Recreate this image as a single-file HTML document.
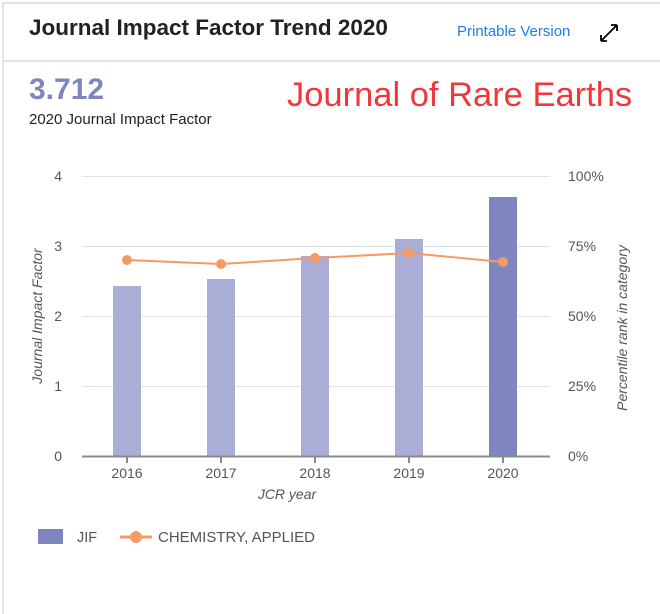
<!DOCTYPE html>
<html><head><meta charset="utf-8"><style>
body{margin:0;width:660px;height:600px;background:#fff;font-family:"Liberation Sans",sans-serif;overflow:hidden}
.box{position:absolute;left:2px;top:2px;width:670px;height:610px;border-left:2px solid #e2e2e8;border-top:2px solid #e2e2e8}
</style></head><body>
<div class="box"></div>
<div style="position:absolute;left:3px;top:60px;width:657px;height:2px;background:#e4e4e8"></div>
<div style="position:absolute;left:29px;top:15px;font-size:22.5px;font-weight:bold;color:#222">Journal Impact Factor Trend 2020</div>
<div style="position:absolute;left:457px;top:23px;font-size:15px;color:#1a7fe8">Printable Version</div>
<svg style="position:absolute;left:598px;top:22px" width="22" height="22"><path d="M3 19L19 3M19 3h-6M19 3v6M3 19h6M3 19v-6" stroke="#000" stroke-width="1.8" fill="none"/></svg>
<div style="position:absolute;left:29px;top:73px;font-size:30px;font-weight:bold;color:#7f86bf">3.712</div>
<div style="position:absolute;left:29px;top:111px;font-size:15px;color:#222">2020 Journal Impact Factor</div>
<div style="position:absolute;left:287px;top:76px;font-size:34.5px;color:#f0373c">Journal of Rare Earths</div>
<svg style="position:absolute;left:0;top:0" width="660" height="600" font-family="Liberation Sans, sans-serif">
<g stroke="#e0e0e8" stroke-width="1">
<line x1="82" x2="550" y1="176.5" y2="176.5"/><line x1="82" x2="550" y1="246.5" y2="246.5"/>
<line x1="82" x2="550" y1="316.5" y2="316.5"/><line x1="82" x2="550" y1="386.5" y2="386.5"/>
</g>
<g fill="#aaaed6">
<rect x="113" y="286" width="28" height="170"/><rect x="207" y="279" width="28" height="177"/>
<rect x="301" y="256" width="28" height="200"/><rect x="395" y="239" width="28" height="217"/>
</g>
<rect x="489" y="197" width="28" height="259" fill="#7f86bf"/>
<line x1="82" x2="550" y1="456.5" y2="456.5" stroke="#888" stroke-width="2"/>
<g stroke="#888" stroke-width="2"><line x1="127" x2="127" y1="456" y2="463"/><line x1="221" x2="221" y1="456" y2="463"/><line x1="315" x2="315" y1="456" y2="463"/><line x1="409" x2="409" y1="456" y2="463"/><line x1="503" x2="503" y1="456" y2="463"/></g>
<polyline points="127,260 221,264 315,258 409,253 503,262" fill="none" stroke="#f69a64" stroke-width="2"/>
<g fill="#f69a64"><circle cx="127" cy="260" r="5"/><circle cx="221" cy="264" r="5"/><circle cx="315" cy="258" r="5"/><circle cx="409" cy="253" r="5"/><circle cx="503" cy="262" r="5"/></g>
<g fill="#555" font-size="14" text-anchor="end">
<text x="62" y="181">4</text><text x="62" y="251">3</text><text x="62" y="321">2</text><text x="62" y="391">1</text><text x="62" y="461">0</text></g>
<g fill="#555" font-size="14">
<text x="568" y="181">100%</text><text x="568" y="251">75%</text><text x="568" y="321">50%</text><text x="568" y="391">25%</text><text x="568" y="461">0%</text></g>
<g fill="#555" font-size="14" text-anchor="middle">
<text x="127" y="478">2016</text><text x="221" y="478">2017</text><text x="315" y="478">2018</text><text x="409" y="478">2019</text><text x="503" y="478">2020</text>
<text x="287" y="499" font-style="italic">JCR year</text>
<text transform="translate(42,316) rotate(-90)" font-style="italic">Journal Impact Factor</text>
<text transform="translate(627,328) rotate(-90)" font-style="italic">Percentile rank in category</text>
</g>
<rect x="38" y="529" width="25" height="15" fill="#7f86bf"/>
<text x="77" y="542" fill="#555" font-size="14.5">JIF</text>
<line x1="120" x2="152" y1="537" y2="537" stroke="#f69a64" stroke-width="3"/>
<circle cx="136" cy="537" r="6" fill="#f69a64"/>
<text x="158" y="542" fill="#555" font-size="15">CHEMISTRY, APPLIED</text>
</svg>
</body></html>
